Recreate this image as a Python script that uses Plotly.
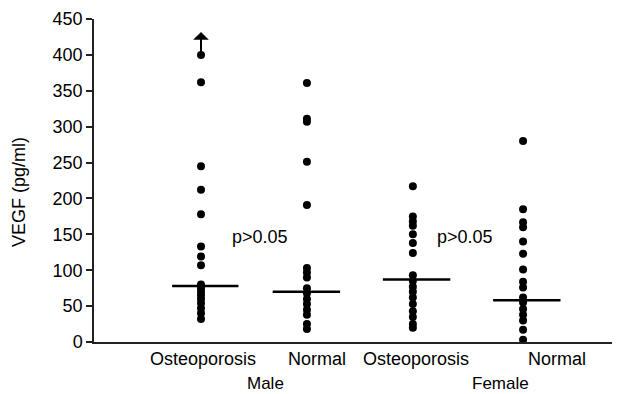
import plotly.graph_objects as go

# ---- data ----
groups = ["Osteoporosis", "Normal", "Osteoporosis", "Normal"]
sexes = ["Male", "Female"]
male_osteo = [400, 362, 245, 212, 178, 133, 119, 107, 80, 75, 70, 65, 60, 54, 47, 40, 32]
male_normal = [361, 311, 307, 251, 191, 103, 97, 90, 75, 68, 60, 53, 45, 38, 25, 18]
female_osteo = [217, 175, 168, 162, 150, 138, 124, 93, 85, 77, 70, 62, 53, 43, 35, 25, 20]
female_normal = [280, 185, 167, 160, 140, 123, 101, 84, 76, 62, 55, 46, 38, 30, 17, 3]
medians = [78, 70, 87, 58]
p_labels = ["p>0.05", "p>0.05"]
y_ticks = [0, 50, 100, 150, 200, 250, 300, 350, 400, 450]

series = [male_osteo, male_normal, female_osteo, female_normal]

# ---- layout positions ----
# the page body adds an 8px offset, so the figure is 8px smaller and margins shifted
OFF = 8
group_x = [1.0, 1.99, 2.98, 4.01]
label_x = [1.02, 2.08, 3.01, 4.33]
sex_x = [1.60, 3.80]
p_x = [1.55, 3.47]
median_x = [(0.73, 1.35), (1.67, 2.30), (2.70, 3.33), (3.73, 4.36)]
FONT = "Liberation Sans, Arial, Helvetica, sans-serif"
FS = 18

fig = go.Figure()
for gx, vals in zip(group_x, series):
    fig.add_trace(go.Scatter(
        x=[gx] * len(vals), y=vals, mode="markers",
        marker=dict(color="black", size=8), showlegend=False, hoverinfo="y",
        cliponaxis=False))

for (x0, x1), m in zip(median_x, medians):
    fig.add_trace(go.Scatter(
        x=[x0, x1], y=[m, m], mode="lines",
        line=dict(color="black", width=2.5), showlegend=False, hoverinfo="skip"))

annotations = []
for lx, txt in zip(label_x, groups):
    annotations.append(dict(x=lx, y=0, xref="x", yref="y", yshift=-17, text=txt,
                            showarrow=False, font=dict(size=FS, color="black", family=FONT)))
for sx, txt in zip(sex_x, sexes):
    annotations.append(dict(x=sx, y=0, xref="x", yref="y", yshift=-41, text=txt,
                            showarrow=False, font=dict(size=FS - 1, color="black", family=FONT)))
for px, txt in zip(p_x, p_labels):
    annotations.append(dict(x=px, y=146, xref="x", yref="y", text=txt,
                            showarrow=False, font=dict(size=FS, color="black", family=FONT)))
# arrow indicating off-scale value
annotations.append(dict(x=group_x[0], y=432, ax=group_x[0], ay=male_osteo[0],
                        xref="x", yref="y", axref="x", ayref="y", text="",
                        showarrow=True, arrowhead=1, arrowsize=1.3, arrowwidth=2,
                        arrowcolor="black"))
# y-axis title
annotations.append(dict(x=0, y=209, xref="paper", yref="y", xshift=-75,
                        xanchor="center", yanchor="middle",
                        text="VEGF (pg/ml)", textangle=-90, showarrow=False,
                        font=dict(size=FS, color="black", family=FONT)))

fig.update_layout(
    width=620 - OFF, height=394 - OFF,
    margin=dict(l=94 - OFF, r=0, t=19 - OFF, b=52, autoexpand=False),
    paper_bgcolor="white", plot_bgcolor="white",
    font=dict(family=FONT, size=FS, color="black"),
    annotations=annotations,
    xaxis=dict(range=[0, 4.916], showgrid=False, zeroline=False, showticklabels=False,
               ticks="", showline=True, linecolor="#222", linewidth=1.5, fixedrange=True,
               automargin=False),
    yaxis=dict(range=[0, 450], tickvals=y_ticks, showgrid=False, zeroline=False,
               ticks="outside", ticklen=6, tickwidth=1.5, tickcolor="#222",
               showline=True, linecolor="#222", linewidth=1.5, automargin=False,
               tickfont=dict(size=FS, family=FONT, color="black"), fixedrange=True),
)

fig.write_html("out.html")
